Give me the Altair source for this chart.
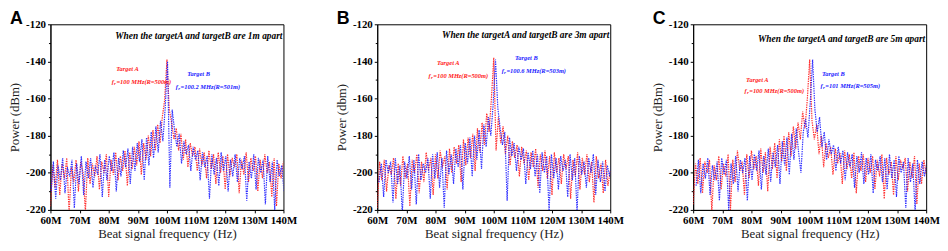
import altair as alt
import numpy as np
import pandas as pd

# frequency grid (MHz) and beat-frequency offsets of target B per panel
f_start, f_step, n_pts = 60.0, 0.8, 101
offsets_b = [0.2, 0.6, 1.0]

red_a = [-218,-196,-208,-193,-212,-195,-203,-192,-222,-197,
         -205,-193,-210,-194,-200,-221,-192,-206,-195,-202,
         -191,-209,-194,-200,-190,-213,-193,-201,-189,-204,
         -191,-199,-188,-207,-189,-198,-186,-196,-183,-201,
         -184,-193,-180,-191,-177,-188,-174,-184,-170,-161,
         -139,-166,-173,-182,-176,-188,-179,-193,-182,-197,
         -184,-191,-186,-199,-187,-196,-189,-203,-188,-198,
         -190,-206,-189,-200,-191,-209,-190,-202,-192,-197,
         -190,-211,-193,-201,-189,-205,-192,-199,-191,-210,
         -193,-203,-190,-200,-194,-213,-192,-218,-195,-203,
         -194]
blue_a = [-210,-194,-214,-196,-204,-192,-211,-197,-202,-193,
          -219,-195,-206,-191,-212,-194,-203,-192,-208,-196,
          -201,-190,-213,-193,-204,-191,-199,-189,-210,-192,
          -202,-188,-197,-187,-206,-186,-199,-184,-194,-182,
          -204,-181,-196,-178,-192,-175,-189,-172,-183,-165,
          -140,-208,-166,-177,-186,-179,-195,-183,-190,-185,
          -199,-186,-193,-188,-204,-189,-197,-191,-214,-190,
          -201,-192,-207,-189,-199,-191,-210,-193,-202,-190,
          -205,-192,-198,-191,-215,-194,-203,-190,-209,-192,
          -200,-193,-217,-191,-205,-194,-220,-193,-202,-196,
          -210]
red_b = [-219,-194,-204,-193,-210,-196,-201,-192,-214,-195,
         -207,-191,-203,-195,-218,-193,-200,-190,-211,-194,
         -205,-189,-199,-192,-212,-190,-203,-188,-197,-191,
         -209,-187,-200,-186,-195,-185,-205,-182,-196,-181,
         -192,-179,-199,-176,-189,-173,-185,-168,-178,-160,
         -138,-188,-170,-184,-175,-190,-180,-196,-183,-192,
         -185,-202,-186,-195,-188,-204,-189,-197,-187,-208,
         -190,-199,-188,-203,-191,-212,-189,-200,-192,-206,
         -190,-198,-191,-214,-193,-202,-189,-209,-192,-201,
         -190,-205,-194,-216,-191,-203,-195,-211,-193,-207,
         -199]
blue_b = [-205,-195,-213,-193,-200,-194,-216,-192,-206,-196,
          -222,-194,-203,-191,-209,-193,-217,-190,-204,-195,
          -200,-192,-214,-190,-203,-189,-208,-192,-219,-188,
          -201,-190,-206,-187,-197,-185,-209,-184,-195,-181,
          -202,-180,-193,-177,-198,-174,-186,-170,-180,-163,
          -139,-165,-176,-185,-178,-215,-181,-191,-184,-199,
          -186,-193,-187,-206,-189,-198,-188,-202,-190,-211,
          -189,-200,-191,-221,-190,-203,-192,-209,-191,-199,
          -193,-213,-190,-204,-192,-221,-191,-201,-194,-208,
          -192,-200,-190,-212,-193,-205,-194,-210,-196,-202,
          -194]
red_c = [-217,-195,-206,-192,-211,-194,-200,-193,-221,-196,
         -204,-191,-209,-195,-202,-190,-220,-193,-205,-188,
         -199,-194,-212,-190,-203,-188,-198,-191,-207,-187,
         -200,-189,-210,-186,-198,-184,-203,-182,-194,-180,
         -199,-178,-191,-175,-187,-173,-182,-167,-176,-160,
         -139,-172,-182,-174,-190,-180,-197,-184,-192,-186,
         -201,-187,-195,-189,-206,-188,-198,-190,-203,-189,
         -211,-191,-199,-190,-205,-192,-200,-191,-209,-193,
         -202,-190,-214,-192,-201,-194,-212,-191,-204,-193,
         -198,-192,-210,-194,-203,-191,-217,-195,-206,-193,
         -201]
blue_c = [-207,-193,-211,-195,-203,-192,-212,-196,-204,-194,
          -215,-192,-201,-193,-220,-195,-206,-191,-210,-193,
          -200,-192,-215,-191,-204,-190,-199,-188,-209,-191,
          -201,-187,-205,-189,-197,-185,-206,-183,-196,-181,
          -201,-179,-193,-176,-189,-200,-178,-171,-181,-162,
          -139,-166,-178,-170,-186,-178,-193,-182,-190,-185,
          -199,-186,-195,-188,-204,-189,-197,-190,-208,-191,
          -200,-189,-206,-192,-201,-190,-211,-193,-199,-191,
          -205,-192,-209,-190,-203,-193,-213,-191,-200,-194,
          -219,-192,-205,-195,-221,-193,-206,-194,-202,-195,
          -197]

letters = ["A", "B", "C"]
titles = ["When the targetA and targetB are 1m apart",
          "When the targetA and targetB are 3m apart",
          "When the targetA and targetB are 5m apart"]
ylabels = ["Power (dBm)", "Power (dbm)", "Power (dBm)"]
label_a = "=100 MHz(R=500m)"
labels_b = ["=100.2 MHz(R=501m)", "=100.6 MHz(R=503m)", "=101 MHz(R=505m)"]
x_ticks = [60, 70, 80, 90, 100, 110, 120, 130, 140]
y_ticks = [-220, -210, -200, -190, -180, -170, -160, -150, -140, -130, -120]

reds = [red_a, red_b, red_c]
blues = [blue_a, blue_b, blue_c]

W, H = 236, 188
SERIF = "Liberation Serif"
RED = "#ff1a1a"
BLUE = "#1a1aff"

# annotation layout per panel (plot-relative pixels)
ann = [
    dict(ta=(78, 45), fa=(62, 58), tb=(150, 50), fb=(127, 64), tt=(235, 12)),
    dict(ta=(72, 39), fa=(52, 52), tb=(151, 34), fb=(126, 47), tt=(235, 11)),
    dict(ta=(65, 56), fa=(52, 68), tb=(142, 50), fb=(129, 63), tt=(235, 15)),
]


def txt(s, x, y, color="black", size=6.5, align="left", baseline="middle",
        font=SERIF, style="italic", weight="bold"):
    return alt.Chart(alt.Data(values=[{}])).mark_text(
        text=s, color=color, fontSize=size, align=align, baseline=baseline,
        font=font, fontStyle=style, fontWeight=weight,
    ).encode(x=alt.value(x), y=alt.value(y))


def fr_label(rest, x, y, color):
    return [
        txt("f", x, y, color),
        txt("r", x + 2.4, y + 2, color, size=4.8),
        txt(rest, x + 4.8, y, color),
    ]


def panel(k):
    n = np.arange(n_pts)
    fa = np.round(f_start + f_step * n, 2)
    fb = np.round(f_start + f_step * n + offsets_b[k], 2)
    df = pd.concat([
        pd.DataFrame({"freq": fa, "power": reds[k], "target": "Target A"}),
        pd.DataFrame({"freq": fb, "power": blues[k], "target": "Target B"}),
    ])
    x = alt.X("freq:Q", scale=alt.Scale(domain=[60, 140], nice=False),
              axis=alt.Axis(values=x_ticks, labelExpr="datum.value + 'M'",
                            title="Beat signal frequency (Hz)", grid=False,
                            labelFont=SERIF, labelFontWeight="bold", labelFontSize=11,
                            labelColor="black", labelFlush=False,
                            titleFont=SERIF, titleFontWeight="normal", titleFontSize=13,
                            titleColor="#222", titlePadding=2,
                            tickSize=3, labelPadding=2, domainColor="black",
                            tickColor="black"))
    y = alt.Y("power:Q", scale=alt.Scale(domain=[-220, -120], nice=False),
              axis=alt.Axis(values=y_ticks,
                            labelExpr="datum.value % 20 == 0 ? '' + datum.value : ''",
                            title=ylabels[k], grid=False,
                            labelFont=SERIF, labelFontWeight="bold", labelFontSize=11,
                            labelColor="black",
                            titleFont=SERIF, titleFontWeight="normal", titleFontSize=13,
                            titleColor="#222", titlePadding=4,
                            tickSize={"condition": {"test": "datum.value % 20 == 0", "value": 3},
                                      "value": 2},
                            labelPadding=2, domainColor="black", tickColor="black"))
    lines = alt.Chart(df).mark_line(strokeDash=[1.4, 1], strokeWidth=1.2,
                                    clip=True, opacity=0.9).encode(
        x=x, y=y,
        color=alt.Color("target:N", scale=alt.Scale(domain=["Target A", "Target B"],
                                                    range=[RED, BLUE]), legend=None),
    )
    a = ann[k]
    layers = [lines,
              txt(titles[k], a["tt"][0], a["tt"][1], size=9.5, align="right"),
              txt("Target A", a["ta"][0], a["ta"][1], RED, align="center"),
              txt("Target B", a["tb"][0], a["tb"][1], BLUE, align="center"),
              *fr_label(label_a, a["fa"][0], a["fa"][1], RED),
              *fr_label(labels_b[k], a["fb"][0], a["fb"][1], BLUE),
              txt(letters[k], -41, -14, size=18, baseline="top",
                  font="Liberation Sans", style="normal")]
    return alt.layer(*layers).properties(width=W, height=H)


chart = alt.hconcat(alt.hconcat(panel(0), panel(1), spacing=38), panel(2), spacing=27)
chart = chart.properties(padding=0).configure_view(stroke="black", strokeWidth=1)
chart.save("out.html", embed_options={"renderer": "svg", "actions": False})
